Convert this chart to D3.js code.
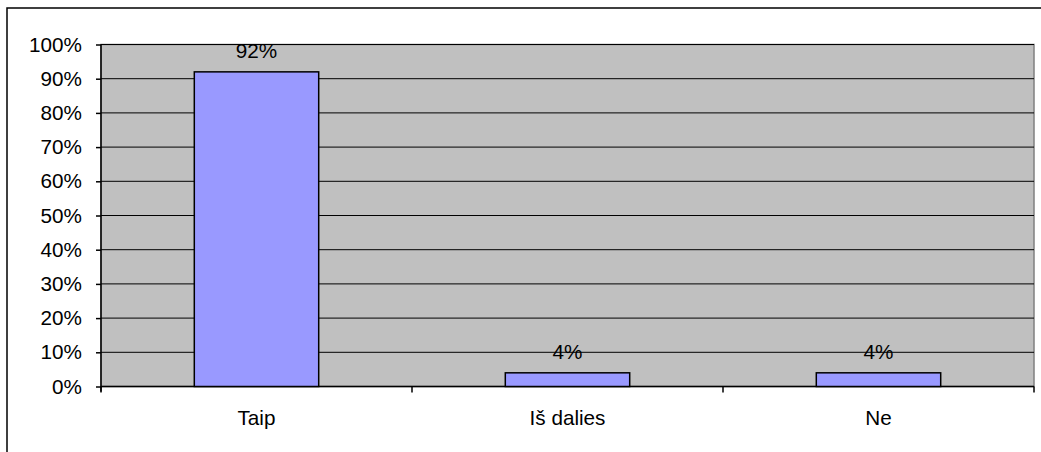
<!DOCTYPE html>
<html>
<head>
<meta charset="utf-8">
<script src="https://cdn.jsdelivr.net/npm/d3@7"></script>
<style>
  body { margin: 0; background: #fff; }
  svg { display: block; font-family: "Liberation Sans", Arial, sans-serif; }
</style>
</head>
<body>
<div id="chart"></div>
<script>
const categories = ["Taip", "Iš dalies", "Ne"];
const values = [0.92, 0.04, 0.04];
const valueLabels = ["92%", "4%", "4%"];
const yTicks = [0, 0.1, 0.2, 0.3, 0.4, 0.5, 0.6, 0.7, 0.8, 0.9, 1.0];

const kWidth = 1041;
const kHeight = 452;
const kFontSize = "20.7px";
const plot = { left: 101, right: 1034, top: 44.5, bottom: 386.5 };

const svg = d3.select("#chart")
  .append("svg")
  .attr("width", kWidth)
  .attr("height", kHeight);

// outer chart border (right and bottom run off the picture)
svg.append("rect")
  .attr("x", 7).attr("y", 8)
  .attr("width", 1040).attr("height", 450)
  .attr("fill", "#fff")
  .attr("stroke", "#000")
  .attr("stroke-width", 1.5);

const x = d3.scaleBand()
  .domain(categories)
  .range([plot.left, plot.right])
  .paddingInner(0.6)
  .paddingOuter(0.3);

const xBand = d3.scaleBand()
  .domain(categories)
  .range([plot.left, plot.right]);

const y = d3.scaleLinear()
  .domain([0, 1])
  .range([plot.bottom, plot.top]);

// plot area
svg.append("rect")
  .attr("x", plot.left).attr("y", plot.top)
  .attr("width", plot.right - plot.left)
  .attr("height", plot.bottom - plot.top)
  .attr("fill", "#c0c0c0")
  .attr("stroke", "#808080")
  .attr("stroke-width", 1.5);

// gridlines
svg.append("g")
  .selectAll("line")
  .data(yTicks.slice(1))
  .enter()
  .append("line")
  .attr("x1", plot.left).attr("x2", plot.right)
  .attr("y1", d => y(d)).attr("y2", d => y(d))
  .attr("stroke", "#000")
  .attr("stroke-width", 1);

// y axis
const yAxis = d3.axisLeft(y)
  .tickValues(yTicks)
  .tickFormat(d3.format(".0%"))
  .tickSize(5)
  .tickPadding(14);

svg.append("g")
  .attr("transform", `translate(${plot.left}, 0)`)
  .call(yAxis)
  .call(g => g.select(".domain").attr("stroke", "#000").attr("stroke-width", 1.5).attr("d", `M0,${plot.top}V${plot.bottom + 5}`))
  .call(g => g.selectAll(".tick line").attr("stroke", "#000").attr("stroke-width", 1.5))
  .call(g => g.selectAll(".tick text")
    .attr("fill", "#000")
    .style("font-size", kFontSize)
    .style("font-family", "'Liberation Sans', Arial, sans-serif"));

// x axis line and category boundary ticks
const xBoundaries = categories.map(c => xBand(c)).concat([plot.right]);
svg.append("line")
  .attr("x1", plot.left).attr("x2", plot.right)
  .attr("y1", plot.bottom).attr("y2", plot.bottom)
  .attr("stroke", "#000").attr("stroke-width", 1.5);

svg.append("g")
  .selectAll("line")
  .data(xBoundaries)
  .enter()
  .append("line")
  .attr("x1", d => d).attr("x2", d => d)
  .attr("y1", plot.bottom).attr("y2", plot.bottom + 6)
  .attr("stroke", "#000").attr("stroke-width", 1.5);

svg.append("g")
  .selectAll("text")
  .data(categories)
  .enter()
  .append("text")
  .attr("x", d => xBand(d) + xBand.bandwidth() / 2)
  .attr("y", 425)
  .attr("text-anchor", "middle")
  .style("font-size", kFontSize)
  .attr("fill", "#000")
  .text(d => d);

// bars
svg.append("g")
  .selectAll("rect")
  .data(values)
  .enter()
  .append("rect")
  .attr("x", (d, i) => x(categories[i]))
  .attr("y", d => y(d))
  .attr("width", x.bandwidth())
  .attr("height", d => y(0) - y(d))
  .attr("fill", "#9999ff")
  .attr("stroke", "#000")
  .attr("stroke-width", 1.5);

// value labels
svg.append("g")
  .selectAll("text")
  .data(values)
  .enter()
  .append("text")
  .attr("x", (d, i) => xBand(categories[i]) + xBand.bandwidth() / 2)
  .attr("y", d => y(d) - 14)
  .attr("text-anchor", "middle")
  .style("font-size", kFontSize)
  .attr("fill", "#000")
  .text((d, i) => valueLabels[i]);
</script>
</body>
</html>
